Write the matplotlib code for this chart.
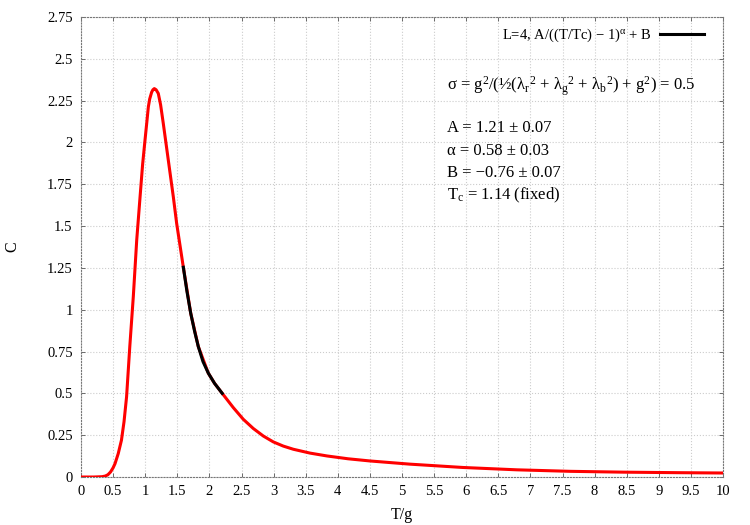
import matplotlib
matplotlib.use("Agg")
import matplotlib.pyplot as plt

plt.rcParams['font.family'] = ['Liberation Serif', 'DejaVu Serif']
plt.rcParams['mathtext.fontset'] = 'custom'
plt.rcParams['mathtext.rm'] = 'Liberation Serif'
plt.rcParams['mathtext.it'] = 'Liberation Serif:italic'

# specific heat curve
T_data = [0.0, 0.2, 0.33, 0.38, 0.42, 0.46, 0.50, 0.53, 0.58, 0.63, 0.67, 0.71,
          0.76, 0.815, 0.868, 0.919, 0.96, 0.997, 1.025, 1.049, 1.07, 1.10,
          1.12, 1.142, 1.17, 1.204, 1.24, 1.282, 1.36, 1.438, 1.49, 1.594,
          1.709, 1.827, 1.983, 2.08, 2.2, 2.372, 2.528, 2.684, 2.84, 2.995,
          3.15, 3.307, 3.567, 3.83, 4.16, 4.5, 5.12, 5.95, 6.79, 7.62, 8.45,
          9.28, 10.0]
C_data = [0.0, 0.0, 0.002, 0.006, 0.014, 0.03, 0.055, 0.08, 0.14, 0.22, 0.33,
          0.48, 0.78, 1.08, 1.417, 1.67, 1.87, 2.014, 2.12, 2.213, 2.26, 2.30,
          2.315, 2.322, 2.315, 2.293, 2.225, 2.113, 1.894, 1.675, 1.516, 1.254,
          0.979, 0.78, 0.621, 0.56, 0.50, 0.415, 0.345, 0.29, 0.245, 0.21,
          0.185, 0.166, 0.143, 0.126, 0.109, 0.096, 0.077, 0.057, 0.043, 0.034,
          0.029, 0.026, 0.024]

# fit segment
T_fit = [1.594, 1.65, 1.709, 1.77, 1.827, 1.90, 1.983, 2.08, 2.2]
C_fit = [1.254, 1.11, 0.979, 0.87, 0.78, 0.69, 0.621, 0.56, 0.50]

xticks = [i * 0.5 for i in range(21)]
yticks = [i * 0.25 for i in range(12)]

fig = plt.figure(figsize=(7.5, 5.25), dpi=100)
ax = fig.add_axes([0.108, 0.0914, 0.856, 0.8762])

ax.plot(T_data, C_data, color='red', lw=2.2, zorder=3)
ax.plot(T_fit, C_fit, color='black', lw=2.2, zorder=4,
        label=r'L=4, A/((T/Tc) $-$ 1)$^\mathrm{α}$ + B')

ax.set_xlim(0, 10)
ax.set_ylim(0, 2.75)
ax.set_xticks(xticks)
ax.set_xticklabels(['%g' % v for v in xticks])
ax.set_yticks(yticks)
ax.set_yticklabels(['%g' % v for v in yticks])
ax.tick_params(direction='in', length=3, width=0.6, colors='#555555',
               labelcolor='black', labelsize=10.5, pad=6, top=True, right=True)
ax.grid(True, color='#cccccc', linestyle=':', linewidth=0.8)
for s in ax.spines.values():
    s.set_linestyle(':')
    s.set_color('#777777')
    s.set_linewidth(0.8)

ax.set_xlabel('T/g', fontsize=11.5, labelpad=6)
ax.set_ylabel('C', fontsize=11.5)
ax.yaxis.set_label_coords(-0.095, 0.5)

leg = ax.legend(loc='upper right', bbox_to_anchor=(0.985, 1.0), frameon=False,
                fontsize=10.5, handlelength=3.0, markerfirst=False,
                borderaxespad=0.25, handletextpad=0.6)

fs = 12
txt = (r'σ = g$^2$/(½(λ$_\mathrm{r}$$^2$ + λ$_\mathrm{g}$$^2$ + λ$_\mathrm{b}$$^2$)'
       r' + g$^2$) = 0.5')
fig.text(447 / 750, 1 - 86 / 525, txt, fontsize=fs, va='center', ha='left')
fig.text(447 / 750, 1 - 128 / 525, 'A = 1.21 ± 0.07', fontsize=fs, va='center')
fig.text(447 / 750, 1 - 151 / 525, 'α = 0.58 ± 0.03', fontsize=fs, va='center')
fig.text(447 / 750, 1 - 173 / 525, 'B = −0.76 ± 0.07', fontsize=fs, va='center')
fig.text(447 / 750, 1 - 195 / 525, r'T$_\mathrm{c}$ = 1.14 (fixed)', fontsize=fs,
         va='center')

fig.savefig('out.png', dpi=100)
